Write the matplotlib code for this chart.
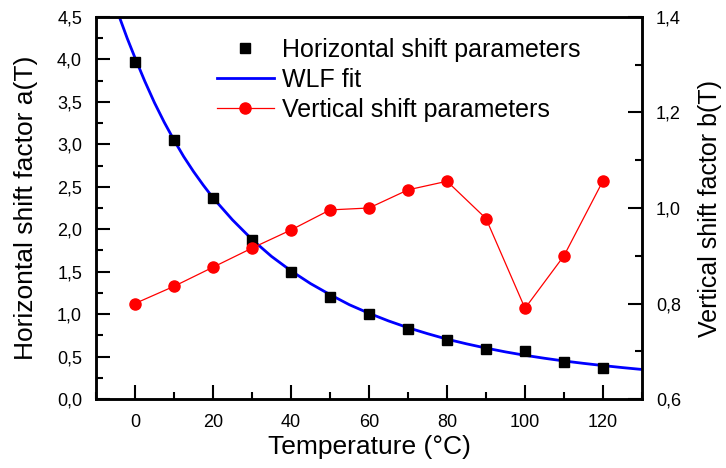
import numpy as np
import matplotlib.pyplot as plt
from matplotlib.ticker import MultipleLocator, FuncFormatter

plt.rcParams['font.family'] = ['Liberation Sans', 'DejaVu Sans']

# horizontal shift parameters a(T)
temp = [0, 10, 20, 30, 40, 50, 60, 70, 80, 90, 100, 110, 120]
a_T = [3.97, 3.05, 2.37, 1.87, 1.50, 1.20, 1.00, 0.82, 0.695, 0.585, 0.56, 0.44, 0.365]

# WLF fit
wlf_T = [-4, -2, 0, 2.5, 5, 7.5, 10, 12.5, 15, 17.5, 20, 25, 30, 35, 40, 45, 50,
         55, 60, 65, 70, 75, 80, 85, 90, 95, 100, 105, 110, 115, 120, 125, 130]
wlf_a = [4.5, 4.25, 4.02, 3.745, 3.49, 3.26, 3.05, 2.855, 2.68, 2.52, 2.37, 2.11,
         1.88, 1.68, 1.51, 1.36, 1.23, 1.11, 1.01, 0.92, 0.84, 0.77, 0.705, 0.65,
         0.60, 0.555, 0.515, 0.48, 0.448, 0.42, 0.394, 0.37, 0.348]

# vertical shift parameters b(T)
b_T = [0.80, 0.836, 0.876, 0.916, 0.954, 0.996, 1.0, 1.038, 1.056, 0.978, 0.79, 0.90, 1.057]

fig = plt.figure(figsize=(7.26, 4.68), dpi=100)
ax = fig.add_axes([0.1322, 0.1474, 0.7521, 0.8163])
ax2 = ax.twinx()

h1, = ax.plot(temp, a_T, 's', color='black', markersize=7, zorder=3,
              label='Horizontal shift parameters')
h2, = ax.plot(wlf_T, wlf_a, '-', color='#0000ff', lw=2, zorder=2, label='WLF fit')
h3, = ax2.plot(temp, b_T, '-o', color='#ff0000', lw=0.9, markersize=8,
               label='Vertical shift parameters')

ax.set_xlim(-10, 130)
ax.set_ylim(0, 4.5)
ax2.set_ylim(0.6, 1.4)

comma = FuncFormatter(lambda v, p: ('%.1f' % v).replace('.', ','))
ax.xaxis.set_major_locator(MultipleLocator(20))
ax.xaxis.set_minor_locator(MultipleLocator(10))
ax.yaxis.set_major_locator(MultipleLocator(0.5))
ax.yaxis.set_minor_locator(MultipleLocator(0.25))
ax.yaxis.set_major_formatter(comma)
ax2.yaxis.set_major_locator(MultipleLocator(0.2))
ax2.yaxis.set_minor_locator(MultipleLocator(0.1))
ax2.yaxis.set_major_formatter(comma)

for a in (ax, ax2):
    for s in a.spines.values():
        s.set_linewidth(1.8)
    a.tick_params(which='major', direction='in', length=10, width=1.5, labelsize=13, pad=10)
    a.tick_params(which='minor', direction='in', length=5, width=1.5)
ax.tick_params(top=False, which='both')
ax.tick_params(axis='x', which='major', pad=11)

ax.set_xlabel('Temperature (°C)', fontsize=19, labelpad=3)
ax.set_ylabel('Horizontal shift factor a(T)', fontsize=19, labelpad=14)
ax2.set_ylabel('Vertical shift factor b(T)', fontsize=18, labelpad=12)

ax.legend(handles=[h1, h2, h3], loc='upper left', bbox_to_anchor=(0.221, 0.945),
          frameon=False, fontsize=18, handlelength=2.3, labelspacing=0.24,
          borderpad=0, borderaxespad=0, handletextpad=0.3)

plt.savefig('out.png', dpi=100)
